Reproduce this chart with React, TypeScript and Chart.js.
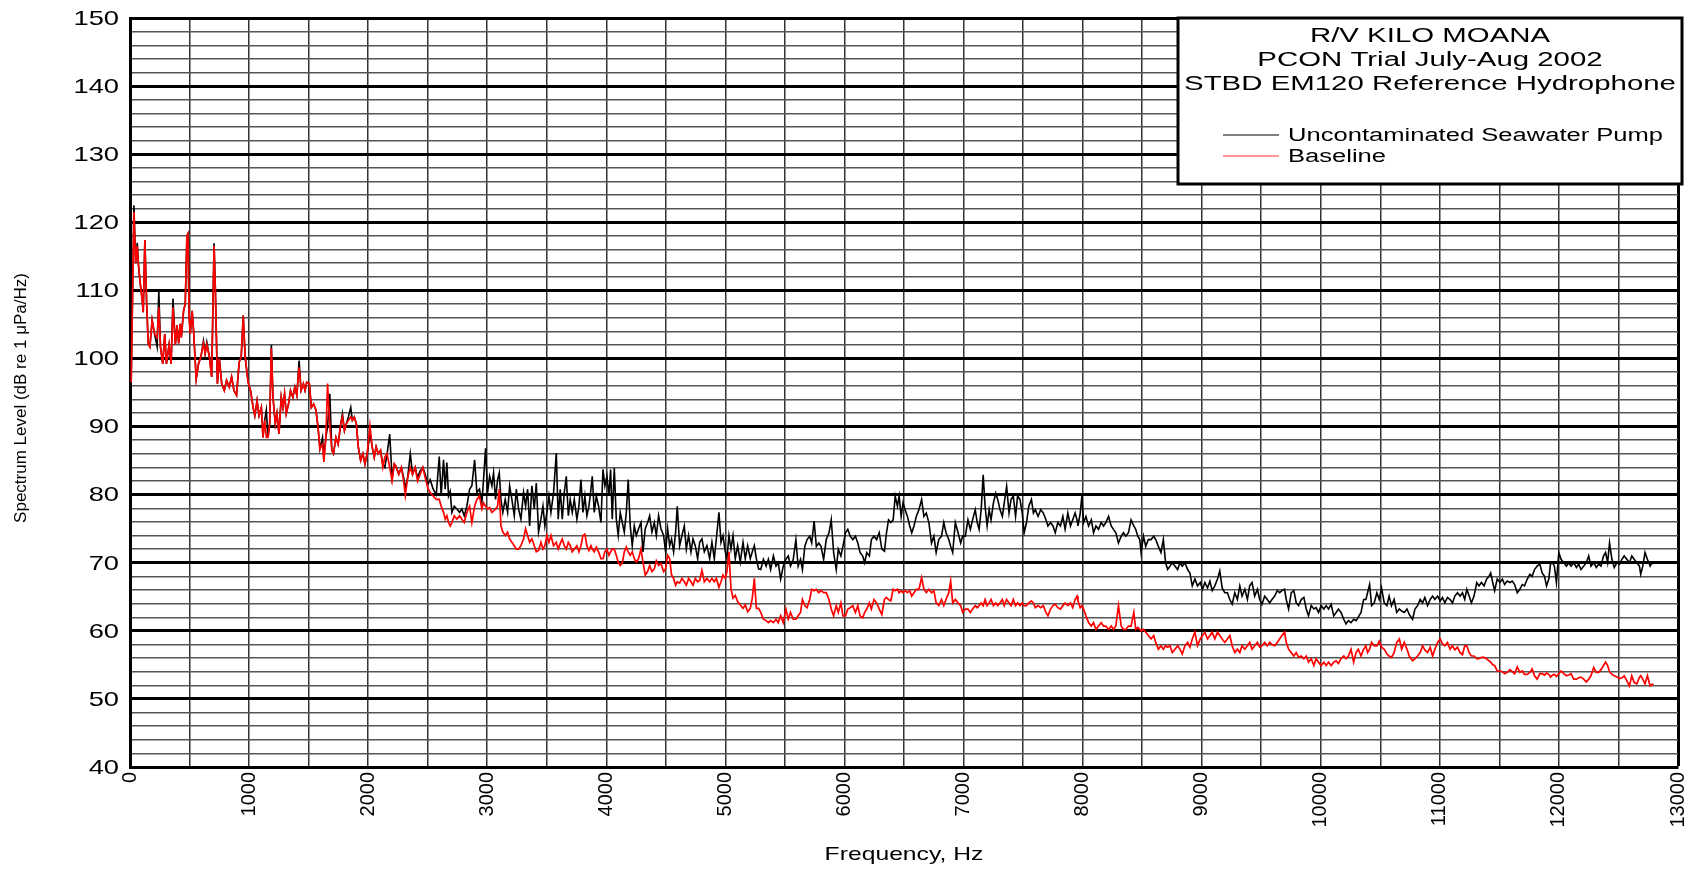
import React, { useEffect, useRef } from 'react';
import { Chart, registerables } from 'chart.js';

Chart.register(...registerables);

// ---------------- data ----------------
const freqHz = [
  10, 33, 47, 61, 70, 83, 103, 111, 125, 139,
  153, 167, 186, 206, 228, 242, 256, 275, 292, 306,
  328, 345, 361, 381, 395, 409, 422, 431, 450, 464,
  478, 486, 497, 506, 522, 534, 556, 575, 595, 617,
  631, 645, 667, 686, 706, 717, 734, 750, 770, 792,
  811, 834, 853, 873, 895, 917, 934, 951, 967, 992,
  1012, 1034, 1048, 1067, 1084, 1103, 1117, 1131, 1145, 1159,
  1173, 1187, 1201, 1220, 1234, 1251, 1270, 1284, 1298, 1312,
  1331, 1348, 1368, 1384, 1401, 1420, 1437, 1456, 1470, 1484,
  1506, 1523, 1542, 1562, 1579, 1595, 1617, 1628, 1645, 1659,
  1678, 1695, 1709, 1729, 1748, 1770, 1784, 1801, 1817, 1834,
  1854, 1867, 1884, 1901, 1917, 1937, 1956, 1973, 1992, 2015,
  2034, 2051, 2067, 2084, 2104, 2123, 2140, 2159, 2181, 2201,
  2220, 2237, 2257, 2279, 2298, 2312, 2332, 2354, 2373, 2395,
  2415, 2437, 2459, 2479, 2501,
  2521, 2546, 2572, 2597, 2613, 2633, 2647, 2661, 2675, 2689,
  2703, 2723, 2745, 2768, 2787, 2807, 2829, 2852, 2871, 2894,
  2913, 2935, 2955, 2969, 2986, 3003, 3020, 3039, 3053, 3070,
  3087, 3101, 3115, 3131, 3151, 3171, 3188, 3207, 3227, 3244,
  3263, 3283, 3305, 3322, 3339, 3356, 3375, 3395, 3412, 3431,
  3451, 3468, 3484, 3501, 3518, 3535, 3557, 3580, 3596, 3613,
  3630, 3647, 3664, 3681, 3697, 3714, 3731, 3753, 3770, 3787,
  3804, 3820, 3837, 3854, 3871, 3882, 3899, 3916, 3935, 3955,
  3972, 3988, 4005, 4022, 4036, 4050, 4067, 4084, 4100, 4117,
  4134, 4151, 4168, 4184, 4201, 4218, 4235, 4252, 4271, 4291,
  4308, 4327, 4347, 4364, 4383, 4403, 4420, 4439, 4459, 4481,
  4498, 4515, 4532, 4548, 4565, 4582, 4596, 4616, 4635, 4655,
  4672, 4691, 4711, 4728, 4747, 4767, 4784, 4803, 4823, 4845,
  4868, 4887, 4907, 4924, 4946, 4963, 4980, 4999, 5013, 5030,
  5047, 5064, 5083, 5103, 5125, 5148, 5167, 5187, 5209, 5226,
  5243, 5260, 5279,
  5297, 5319, 5342, 5361, 5380, 5403, 5425, 5444, 5464, 5486,
  5508, 5528, 5547, 5570, 5592, 5611, 5631, 5647, 5667, 5686,
  5708, 5725, 5745, 5764, 5784, 5803, 5825, 5847, 5870, 5889,
  5909, 5931, 5948, 5970, 5987, 6009, 6028, 6048, 6070, 6092,
  6112, 6131, 6153, 6170, 6187, 6209, 6226, 6248, 6270, 6292,
  6314, 6336, 6353, 6370, 6389, 6409, 6426, 6445, 6459, 6476,
  6492, 6509, 6529, 6548, 6565, 6584, 6603, 6626, 6648, 6667,
  6687, 6709, 6731, 6751, 6770, 6792, 6815, 6834, 6853, 6876,
  6892, 6909, 6931, 6954, 6976, 6993, 7015, 7037, 7057, 7076,
  7098, 7115, 7131, 7148, 7165, 7181, 7198, 7215, 7231, 7251,
  7270, 7287, 7306, 7326, 7342, 7362, 7382, 7399, 7418, 7437,
  7454, 7474, 7493, 7509, 7529, 7548, 7570, 7587, 7603, 7626,
  7648, 7670, 7692, 7709, 7731, 7751, 7770, 7792, 7814, 7834,
  7853, 7876, 7898, 7917, 7937, 7953,
  7961, 7980, 7994, 8008, 8028, 8050, 8073, 8092, 8112, 8134,
  8156, 8176, 8195, 8218, 8240, 8259, 8279, 8301, 8324, 8343,
  8363, 8385, 8407, 8430, 8446, 8463, 8480, 8491, 8511, 8530,
  8552, 8575, 8597, 8614, 8636, 8658, 8678, 8697, 8714, 8734,
  8753, 8776, 8798, 8817, 8837, 8859, 8882, 8901, 8921, 8943,
  8965, 8988, 9007, 9027, 9049, 9069, 9088, 9110, 9133, 9152,
  9172, 9194, 9216, 9236, 9256, 9278, 9300, 9320, 9339, 9362,
  9384, 9403, 9423, 9445, 9468, 9487, 9506, 9529, 9551, 9571,
  9590, 9613, 9635, 9654, 9674, 9696, 9710, 9730, 9752, 9774,
  9794, 9814, 9836, 9858, 9878, 9897, 9920, 9942, 9961, 9981,
  10003, 10026, 10045, 10065, 10087, 10109, 10129, 10148, 10170, 10193,
  10212, 10232, 10254, 10276, 10296, 10315, 10338, 10360, 10379, 10393,
  10410, 10427, 10449, 10471, 10491, 10510, 10533, 10555, 10574, 10594,
  10616, 10638,
  10660, 10679, 10701, 10724, 10743, 10771, 10791, 10813, 10835, 10855,
  10874, 10897, 10919, 10939, 10958, 10981, 11003, 11022, 11042, 11064,
  11086, 11106, 11126, 11148, 11170, 11190, 11209, 11226, 11246, 11265,
  11287, 11310, 11329, 11349, 11371, 11393, 11413, 11427, 11444, 11460,
  11482, 11505, 11525, 11544, 11566, 11589, 11608, 11628, 11650, 11672,
  11692, 11711, 11734, 11756, 11775, 11795, 11817, 11840, 11859, 11879,
  11896, 11915, 11929, 11946, 11962, 11979, 11999, 12018, 12041, 12063,
  12083, 12102, 12124, 12147, 12166, 12186, 12208, 12230, 12250, 12269,
  12292, 12314, 12334, 12353, 12375, 12392, 12409, 12425, 12445, 12465,
  12487, 12509, 12529, 12548, 12570, 12592, 12612, 12632, 12654, 12676,
  12687, 12704, 12723, 12743, 12766, 12780, 12794,
];

// Uncontaminated Seawater Pump (black), dB re 1 uPa/Hz
const pumpLevel = [
  96.5, 122.5, 114, 117, 114, 111.5, 108.5, 106.8, 117.4, 108.5,
  102.2, 101.7, 105.6, 103.6, 101.7, 110, 101.7, 99.2, 103.6, 99.2,
  102, 99.2, 108.8, 102, 104.9, 102.2, 105.1, 103.1, 107, 108,
  118, 118.3, 106.1, 103.6, 107, 104, 97, 99.2, 100.2, 102.6,
  100.7, 102.4, 100.2, 97.3, 116.9, 110, 96.3, 100, 96.3, 95.3,
  96.8, 95.8, 97.3, 95.3, 94.6, 99.5, 100.2, 106.3, 100.2, 96.5,
  95.3, 92.8, 91.6, 93.8, 91.6, 92.8, 88.4, 90.9, 92.4, 88.4,
  90.4, 102, 94.3, 90.4, 91.9, 88.9, 94.3, 92.8, 94.8, 91.9,
  93.3, 95.3, 94.3, 95.8, 94.6, 99.7, 95.3, 96.3, 95.3, 96.5,
  96.3, 92.8, 93.3, 92.4, 89.9, 86.7, 88.4, 85.5, 88.4, 90,
  94.8, 86.5, 86, 88.4, 87.4, 90.4, 91.9, 89.4, 90.4, 91.4,
  92.8, 90.9, 91.4, 90.4, 87, 85, 86, 84.5, 86, 89,
  87, 85.5, 87, 86, 86.5, 84.5, 84, 86, 88.9, 82.5,
  84.5, 84, 83, 84, 82.5, 81, 82.5, 86, 83, 84,
  82.5, 83.5, 84, 83, 81.5,
  82.2, 80.8, 80, 85.6, 79.8, 85.1, 80.8, 84.7, 79.8, 80.5,
  77.4, 78.3, 77.9, 77.4, 77.9, 76.9, 78.3, 80.8, 81.3, 85.1,
  80.3, 80.8, 78.8, 82.2, 86.8, 80.3, 82.7, 81.3, 83.2, 79.3,
  82.2, 83.2, 79.3, 77.4, 79.3, 77.4, 81.3, 79.3, 76.9, 80.8,
  77.9, 76.4, 80.3, 78.3, 80.8, 75.4, 81.3, 77.9, 81.7, 74.5,
  76.4, 78.3, 75.4, 77.4, 79.8, 77.4, 80.3, 86.1, 76.4, 80.8,
  76.4, 80.3, 82.7, 76.9, 79.3, 77.4, 79.3, 76.4, 78.3, 82.2,
  77.4, 79.8, 76.9, 78.3, 80.8, 82.7, 77.4, 79.8, 78.3, 75.9,
  83.7, 81.3, 82.7, 79.8, 83.7, 76.4, 83.9, 76.4, 74, 77.4,
  75.9, 74.5, 77.4, 82.2, 75.4, 72.5, 75.4, 74, 75, 75.9,
  71.6, 75, 75.9, 76.9, 74.5, 75.9, 74, 76.9, 75, 74,
  71.6, 75, 72.5, 73.5, 71.6, 74.5, 78.3, 72.5, 74, 75.4,
  72, 74, 71.6, 73.5, 72.5, 70.6, 73, 73.5, 71.6, 72.5,
  70.6, 73, 70.6, 73.5, 77.4, 73, 74, 71.6, 70.6, 74,
  72, 74, 70.6, 72.5, 70.1, 73, 70.6, 72.5, 70.6, 71.6,
  72.5, 70.6, 69.1,
  69, 70.5, 69.5, 70.5, 69, 71, 69.5, 70, 67.6, 69.5,
  70.5, 71, 69.5, 70.5, 73.4, 69.5, 70.5, 69, 72.4, 73.4,
  73.9, 72.9, 76.1, 72.4, 72.9, 72.4, 70.5, 73.4, 74.4, 76.3,
  71.5, 69, 72, 71, 72.4, 74.4, 74.9, 73.9, 73.4, 73.9,
  72.9, 71.5, 71, 70, 71.5, 71, 73.4, 73.9, 73.4, 74.4,
  72, 71.7, 74.4, 76.3, 75.9, 76.3, 79.8, 78.3, 79.8, 76.8,
  78.8, 77.8, 76.8, 75.4, 74.4, 75.4, 76.8, 77.8, 79.3, 76.8,
  77.3, 75.9, 72.9, 73.9, 71.5, 73.4, 73.9, 75.9, 74.4, 73.4,
  72.4, 71.5, 75.9, 74.4, 72.9, 73.9, 73.9, 76.3, 74.9, 76.3,
  77.8, 75.9, 74.9, 77.8, 82.9, 78.3, 75.4, 77.8, 76.3, 78.8,
  80.2, 79.3, 77.8, 76.8, 78.8, 81.2, 77.3, 79.3, 79.8, 76.8,
  79.8, 79.3, 77.3, 74.4, 75.9, 78.3, 79.3, 77.3, 77.8, 76.8,
  77.8, 77.3, 76.3, 75.4, 75.9, 75.4, 74.4, 75.9, 75.4, 76.8,
  74.9, 77.3, 75.4, 76.3, 77.3, 76.3,
  75.4, 77.3, 79.8, 75.9, 76.8, 75.4, 76.3, 74.4, 75.4, 74.9,
  75.9, 75.4, 75.9, 76.8, 75.4, 74.9, 74.4, 72.9, 73.9, 74.4,
  73.9, 74.4, 76.3, 75.4, 74.9, 73.9, 73.4, 71.5, 73.9, 72.4,
  73.4, 73.4, 73.9, 73.4, 72.4, 71.5, 73.4, 70, 69, 69.5,
  70, 69.5, 69, 70, 69.5, 70, 69, 68.5, 66.6, 67.6,
  66.6, 67.1, 66.1, 67.1, 66.3, 67.3, 65.9, 66.6, 67.6, 68.8,
  66.3, 65.6, 65.6, 64.6, 63.9, 65.6, 64.6, 66.6, 65.1, 66.1,
  64.6, 66.6, 67.1, 65.1, 66.1, 64.6, 63.9, 65.1, 64.6, 64.1,
  64.6, 65.1, 65.9, 65.6, 65.9, 66.1, 64.6, 63.2, 65.6, 65.9,
  64.1, 63.7, 64.6, 64.9, 63.2, 62.2, 63.7, 63.2, 63.4, 62.7,
  63.7, 63.2, 63.7, 63.2, 63.9, 62.2, 62.7, 63.2, 62.7, 61.7,
  61, 61.5, 61.2, 61.7, 61.5, 62, 62.7, 64.6, 64.6, 65.6,
  66.8, 63.7, 64.1, 65.6, 64.6, 66.3, 64.1, 63.7, 65.1, 63.7,
  64.6, 62.7,
  63.2, 62.9, 62.7, 63.2, 62.4, 61.7, 63.2, 63.7, 64.6, 64.1,
  64.9, 63.7, 64.6, 65.1, 64.6, 65.1, 64.4, 64.9, 64.1, 64.9,
  64.6, 64.1, 65.1, 65.6, 65.1, 65.6, 64.6, 66.1, 65.1, 64.1,
  65.1, 67.1, 66.6, 67.1, 66.6, 67.6, 68, 68.5, 67.1, 65.9,
  67.6, 67.1, 67.6, 66.8, 67.3, 67.1, 67.3, 66.8, 65.6, 66.1,
  66.8, 66.6, 67.6, 68.3, 68, 69, 69.5, 69.8, 68.5, 68,
  66.6, 67.6, 69.8, 70, 69.5, 67.1, 71.5, 70.5, 70, 69.5,
  70, 69.5, 70, 69.3, 69.8, 69, 69.5, 70, 71, 69.5,
  70, 69.3, 69.8, 69.5, 71, 71.5, 70, 72.9, 70.5, 69.3,
  70, 69.8, 70.5, 71, 70.5, 70, 71, 70.5, 70, 69.5,
  68.3, 69.5, 71.5, 70.5, 69.5, 70, 69.8,
];

// Baseline (red), dB re 1 uPa/Hz
const baselineLevel = [
  96.5, 121.5, 114, 116.5, 114, 111.5, 108.5, 106.8, 117.4, 108.5,
  102.2, 101.7, 105.6, 103.6, 103.1, 107.5, 101.7, 99.2, 103.6, 99.2,
  102, 99.2, 107.5, 102, 104.9, 102.2, 105.1, 103.1, 107, 108,
  118, 118.3, 106.1, 103.6, 107, 104, 97, 99.2, 100.2, 102.2,
  100.7, 102, 100.2, 97.3, 116.5, 110, 96.3, 100, 96.3, 95.3,
  96.8, 95.8, 97.3, 95.3, 94.6, 99.5, 100.2, 106.3, 100.2, 96.5,
  95.3, 92.8, 91.6, 93.8, 91.6, 92.8, 88.4, 90.9, 88.4, 88.4,
  90.4, 101.5, 94.3, 90.4, 91.9, 88.9, 94.3, 92.8, 94.8, 91.9,
  93.3, 95.3, 94.3, 95.8, 94.6, 98.7, 95.3, 96.3, 95.3, 96.5,
  96.3, 92.8, 93.3, 92.4, 89.9, 86.7, 87.4, 84.8, 88.4, 96.3,
  90, 86.5, 86, 88.4, 87.4, 90.4, 91.4, 89.4, 90.4, 90.9,
  91.4, 90.9, 91.4, 90.4, 87, 85, 86, 84.5, 86, 90.1,
  87, 85.5, 87, 86, 86.5, 84, 85.5, 86, 84, 82,
  84.5, 84, 83, 84, 82, 79.9, 82.5, 84, 83, 84,
  82, 83, 84, 82.5, 81,
  80.3, 79.8, 79.3, 79.3, 78.3, 77.4, 76.4, 76.9, 75.9, 75.4,
  75.9, 76.9, 76.4, 76.9, 76.4, 75.9, 77.4, 78.3, 75.9, 78.3,
  79.3, 79.8, 77.9, 78.8, 78.3, 77.9, 78.1, 77.4, 77.6, 77.9,
  78.3, 80.8, 75.4, 74.5, 74, 74.5, 73.5, 73, 72.5, 72,
  72, 72.5, 73.5, 75, 74, 73, 73.5, 72.5, 71.6, 71.8,
  73, 72, 72.5, 74, 73, 74, 72.5, 73, 72, 72.8,
  73.5, 72.5, 72, 73, 72.5, 71.6, 72, 72.5, 71.6, 72.5,
  74, 74.2, 72.5, 71.8, 72.5, 72, 71.6, 72.3, 71.6, 70.6,
  70.6, 71.6, 72, 71.1, 71.6, 72, 72, 71.1, 70.1, 69.6,
  69.9, 71.6, 72.3, 71.6, 71.1, 71.6, 70.6, 70.1, 70.6, 72,
  70.1, 68.2, 68.7, 69.6, 68.7, 69.1, 70.3, 69.6, 69.9, 68.7,
  69.1, 71.1, 70.6, 68.2, 67.7, 66.7, 67.2, 67, 67.7, 67.2,
  66.7, 67.7, 67.2, 66.7, 67.7, 67.2, 67.4, 68.9, 67.2, 67.7,
  67.2, 67.7, 67.2, 67.7, 66.4, 67.2, 68.2, 67.7, 68.7, 71.6,
  66.2, 64.8, 65.2, 64.3, 63.8, 63.3, 63.8, 62.8, 63.3, 64.8,
  67.7, 63.3, 63.3,
  62.7, 61.7, 61.5, 61.2, 61.5, 61.2, 61.7, 61.2, 62.2, 61.2,
  63.2, 61.7, 62.7, 61.7, 61.7, 62.2, 62.7, 64.6, 63.7, 63.4,
  64.6, 66.1, 65.9, 66.1, 65.6, 65.9, 65.6, 65.6, 64.6, 63.2,
  62.2, 63.7, 62.7, 64.1, 62.2, 62.2, 63.2, 63.4, 63.7, 62.7,
  63.7, 62.2, 61.9, 62.7, 63.2, 64.1, 63.2, 64.6, 64.1, 63.2,
  62.4, 64.6, 64.9, 64.6, 64.4, 66.1, 65.9, 66.1, 65.6, 65.9,
  65.6, 65.9, 65.6, 65.9, 65.1, 65.6, 66.1, 66.1, 67.8, 66.1,
  65.6, 66.1, 65.6, 65.9, 64.1, 63.7, 64.6, 63.7, 64.6, 65.6,
  67.3, 64.1, 64.6, 64.1, 63.7, 62.7, 63.2, 63.2, 62.7, 63.2,
  63.7, 63.4, 63.7, 64.1, 63.7, 64.6, 63.7, 64.1, 64.6, 63.7,
  64.1, 63.7, 64.1, 64.6, 63.7, 64.6, 64.1, 63.7, 64.6, 63.7,
  64.1, 63.7, 64.1, 63.7, 63.7, 64.1, 64.4, 64.1, 63.4, 63.7,
  63.4, 63.7, 62.7, 62.2, 63.2, 63.7, 63.9, 63.4, 63.2, 63.7,
  64.1, 63.7, 64.1, 63.4, 64.6, 65.1,
  64.4, 63.4, 63.7, 63.2, 62.2, 61.2, 60.7, 61.2, 60.2, 60.7,
  61.2, 60.7, 60.7, 60.2, 60.7, 60.2, 60.7, 63.7, 60.7, 60.2,
  60.2, 60.7, 60.7, 62.7, 60.2, 60.5, 60.2, 60, 60.2, 59.8,
  59.3, 58.8, 59.3, 58.3, 57.3, 57.8, 57.3, 57.8, 57.6, 57.8,
  56.8, 57.3, 57.8, 57.3, 56.6, 57.8, 58.3, 57.6, 58.8, 59.8,
  57.8, 58.8, 59.3, 59.8, 58.8, 59.3, 59.8, 58.8, 59.8, 59.3,
  58.8, 58.3, 58.8, 59.3, 57.8, 56.8, 57.3, 56.8, 57.8, 57.3,
  57.8, 58.3, 57.3, 57.8, 58.3, 57.6, 57.8, 58.3, 57.8, 58.3,
  58, 57.8, 58.3, 58.8, 59.3, 59.8, 58.3, 57.3, 56.8, 56.3,
  56.8, 56.1, 56.3, 55.9, 56.3, 55.4, 55.9, 54.9, 55.9, 55.4,
  54.9, 55.4, 54.9, 55.4, 54.9, 55.4, 55.6, 55.2, 55.9, 56.3,
  55.9, 56.3, 57.3, 55.4, 56.8, 57.3, 56.3, 57.3, 57.8, 56.8,
  57.3, 58.3, 57.8, 57.8, 58.5, 57.6, 57.3, 56.6, 56.3, 56.1,
  56.8, 58.3,
  58.8, 57.3, 58.3, 57.3, 56.3, 55.6, 55.9, 56.3, 56.8, 57.8,
  57.2, 56.8, 57.6, 56.3, 57.3, 58.3, 58.8, 58.1, 57.8, 58.3,
  57.3, 57.8, 57.2, 57.6, 56.8, 56.5, 57.8, 57.8, 56.8, 56.3,
  56.3, 55.9, 55.9, 56.1, 56.1, 55.9, 55.6, 55.4, 55, 54.9,
  54.1, 54.1, 54, 53.7, 53.9, 54.3, 54, 53.7, 54.7, 53.9,
  54.1, 53.6, 53.6, 53.9, 54.4, 53.4, 52.9, 53.7, 53.7, 53.5,
  53.8, 53.6, 53.2, 53.5, 53.6, 53.3, 53.7, 54.1, 53.7, 53.4,
  53.5, 53.7, 52.9, 52.9, 53.1, 53.2, 52.9, 52.5, 52.9, 53.4,
  54.6, 53.9, 53.9, 54.3, 54.9, 55.4, 54.9, 54, 53.6, 53.4,
  53.2, 53, 53.1, 53.4, 52.7, 51.9, 53.4, 52.4, 52.2, 53.2,
  53.4, 52.9, 52.2, 53.4, 51.9, 52.1, 52.2,
];

const seriesNames = ['Uncontaminated Seawater Pump', 'Baseline'];
const legendTitleLines = ['R/V KILO MOANA', 'PCON Trial July-Aug 2002', 'STBD EM120 Reference Hydrophone'];
const xAxisTitle = 'Frequency, Hz';
const yAxisTitle = 'Spectrum Level (dB re 1 \u03bcPa/Hz)';
const xRange = [0, 13000];
const yRange = [40, 150];
const xGridStep = 500;
const xLabelStep = 1000;
const yGridStep = 2;
const yLabelStep = 10;

// ---------------- layout / style ----------------
const W = 1694;
const H = 872;
const PLOT = { left: 130, right: 1678, top: 18, bottom: 767 };
const FONT = '"Liberation Sans", Arial, Helvetica, sans-serif';

function stretchedText(ctx: CanvasRenderingContext2D, text: string, x: number, y: number, sx: number) {
  ctx.save();
  ctx.translate(x, y);
  ctx.scale(sx, 1);
  ctx.fillText(text, 0, 0);
  ctx.restore();
}

const decorPlugin = {
  id: 'decor',
  afterDraw(chart: any) {
    const ctx: CanvasRenderingContext2D = chart.ctx;
    const yScale = chart.scales.y;
    ctx.save();
    ctx.fillStyle = '#000';

    // y tick labels (wide face, as in the reference)
    ctx.font = `21px ${FONT}`;
    ctx.textAlign = 'right';
    ctx.textBaseline = 'middle';
    yScale.ticks.forEach((t: any) => {
      if (t.value % yLabelStep !== 0) return;
      const py = yScale.getPixelForValue(t.value);
      stretchedText(ctx, String(t.value), PLOT.left - 11, py + 1, 1.3);
    });

    // axis titles
    ctx.font = `19px ${FONT}`;
    ctx.textAlign = 'center';
    ctx.textBaseline = 'middle';
    stretchedText(ctx, xAxisTitle, 904, 855, 1.3);

    ctx.save();
    ctx.translate(21, 398);
    ctx.rotate(-Math.PI / 2);
    ctx.font = `17px ${FONT}`;
    ctx.fillText(yAxisTitle, 0, 0);
    ctx.restore();

    // legend box
    const bx = 1178, by = 18, bw = 504, bh = 166;
    ctx.fillStyle = '#fff';
    ctx.fillRect(bx, by, bw, bh);
    ctx.lineWidth = 3;
    ctx.strokeStyle = '#000';
    ctx.strokeRect(bx, by, bw, bh);

    ctx.fillStyle = '#000';
    ctx.font = `20px ${FONT}`;
    ctx.textAlign = 'center';
    ctx.textBaseline = 'middle';
    const titleY = [36, 60, 84];
    legendTitleLines.forEach((t, i) => stretchedText(ctx, t, bx + bw / 2, titleY[i], 1.47));

    const entryY = [135, 156];
    const colors = ['#000000', '#ff3030'];
    ctx.textAlign = 'left';
    ctx.font = `18px ${FONT}`;
    seriesNames.forEach((name, i) => {
      ctx.beginPath();
      ctx.strokeStyle = colors[i];
      ctx.lineWidth = 1.2;
      ctx.moveTo(1223, entryY[i]);
      ctx.lineTo(1279, entryY[i]);
      ctx.stroke();
      ctx.fillStyle = '#000';
      stretchedText(ctx, name, 1288, entryY[i] + 1, 1.42);
    });
    ctx.restore();
  },
};

export default function App() {
  const canvasRef = useRef<HTMLCanvasElement | null>(null);

  useEffect(() => {
    document.body.style.margin = '0';
    document.body.style.overflow = 'hidden';
    const canvas = canvasRef.current;
    if (!canvas) return;

    const pumpPoints = freqHz.map((f, i) => ({ x: f, y: pumpLevel[i] }));
    const basePoints = freqHz.map((f, i) => ({ x: f, y: baselineLevel[i] }));

    const chart = new Chart(canvas, {
      type: 'line',
      data: {
        datasets: [
          {
            label: seriesNames[1],
            data: basePoints,
            borderColor: '#ff0000',
            borderWidth: 1.7,
            pointRadius: 0,
            tension: 0,
            fill: false,
          },
          {
            label: seriesNames[0],
            data: pumpPoints,
            borderColor: '#000000',
            borderWidth: 1.6,
            pointRadius: 0,
            tension: 0,
            fill: false,
          },
        ],
      },
      options: {
        responsive: false,
        animation: false,
        devicePixelRatio: 1,
        layout: { padding: { left: 0, top: PLOT.top, right: W - PLOT.right, bottom: 0 } },
        plugins: {
          legend: { display: false },
          tooltip: { enabled: false },
          title: { display: false },
        },
        scales: {
          x: {
            type: 'linear',
            min: xRange[0],
            max: xRange[1],
            afterFit: (s: any) => {
              s.height = H - PLOT.bottom;
              s.paddingLeft = 0;
              s.paddingRight = 0;
            },
            ticks: {
              stepSize: xGridStep,
              autoSkip: false,
              maxRotation: 90,
              minRotation: 90,
              padding: 5,
              color: '#000',
              font: { family: FONT, size: 20 },
              callback: (v: any) => (Number(v) % xLabelStep === 0 ? String(v) : ''),
            },
            grid: {
              drawTicks: false,
              color: (c: any) => (c.tick && c.tick.value === xRange[1] ? '#000' : '#333'),
              lineWidth: (c: any) => (c.tick && c.tick.value === xRange[1] ? 3 : 1.5),
            },
            border: { display: true, width: 3, color: '#000' },
          },
          y: {
            type: 'linear',
            min: yRange[0],
            max: yRange[1],
            afterFit: (s: any) => {
              s.width = PLOT.left;
              s.paddingTop = 0;
              s.paddingBottom = 0;
            },
            ticks: {
              stepSize: yGridStep,
              autoSkip: false,
              display: false,
            },
            grid: {
              drawTicks: false,
              color: (c: any) => (c.tick && c.tick.value % yLabelStep === 0 ? '#000' : '#555'),
              lineWidth: (c: any) => (c.tick && c.tick.value % yLabelStep === 0 ? 3 : 1.4),
            },
            border: { display: true, width: 3, color: '#000' },
          },
        },
      },
      plugins: [decorPlugin],
    } as any);

    return () => {
      chart.destroy();
    };
  }, []);

  return (
    <div style={{ width: W, height: H, overflow: 'hidden', background: '#fff' }}>
      <canvas ref={canvasRef} width={W} height={H} style={{ display: 'block', width: W, height: H }} />
    </div>
  );
}
